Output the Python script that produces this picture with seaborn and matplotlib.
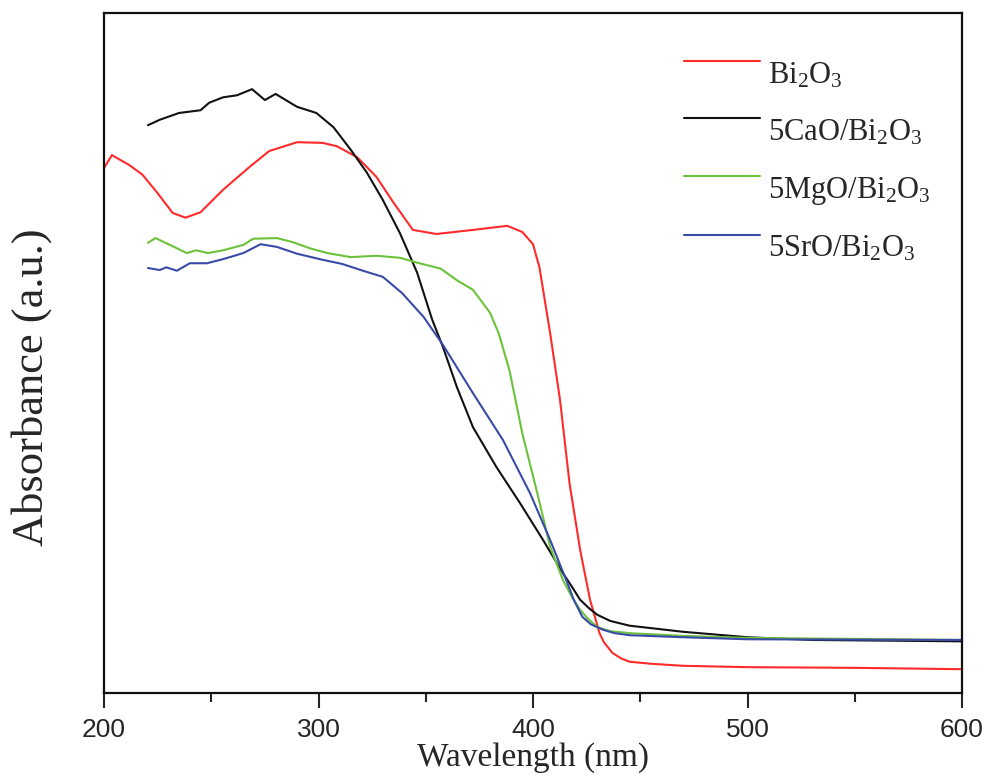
import numpy as np
import pandas as pd
import matplotlib
matplotlib.use("Agg")
import matplotlib.pyplot as plt
from matplotlib.legend_handler import HandlerLine2D
import seaborn as sns

# UV-vis absorbance spectra (a.u., arbitrary scale)
bi2o3_wl = [200, 203.7, 212, 218, 225, 232, 238, 245, 255.5, 268, 277, 290, 302, 308.6,
            318, 327, 335, 344, 355, 372, 388, 395, 400, 403, 408, 412.6, 417, 422,
            426.6, 431, 433, 437, 441, 445, 455, 470, 500, 550, 600]
bi2o3_abs = [0.772, 0.791, 0.776, 0.762, 0.735, 0.706, 0.699, 0.707, 0.740, 0.774, 0.797,
             0.810, 0.809, 0.804, 0.788, 0.759, 0.721, 0.681, 0.675, 0.681, 0.687, 0.678,
             0.660, 0.626, 0.529, 0.431, 0.309, 0.210, 0.137, 0.088, 0.075, 0.059, 0.051,
             0.046, 0.043, 0.040, 0.038, 0.037, 0.035]

cao_wl = [220.5, 226, 235, 245, 249, 255.5, 262, 269, 275, 280, 290, 299, 307, 315, 322.6,
          330, 338, 346, 353, 358, 364.5, 372, 383, 394, 404.7, 414, 418, 422, 426, 430,
          436, 445, 470, 500, 530, 600]
cao_abs = [0.835, 0.843, 0.853, 0.857, 0.868, 0.876, 0.879, 0.888, 0.872, 0.881, 0.862,
           0.853, 0.832, 0.799, 0.765, 0.725, 0.676, 0.618, 0.549, 0.509, 0.450, 0.391,
           0.332, 0.279, 0.225, 0.176, 0.157, 0.137, 0.125, 0.115, 0.106, 0.099, 0.090,
           0.082, 0.078, 0.076]

mgo_wl = [220.5, 224, 232, 238.6, 243, 248.5, 255.5, 265, 269.5, 280.6, 288, 296, 304, 315,
          327, 338, 347, 357, 364.5, 372, 380, 384, 389, 395, 402, 408, 414, 418, 422, 426,
          430, 436, 445, 470, 500, 600]
mgo_abs = [0.662, 0.669, 0.657, 0.647, 0.651, 0.647, 0.651, 0.659, 0.668, 0.669, 0.663,
           0.654, 0.647, 0.641, 0.643, 0.640, 0.632, 0.624, 0.607, 0.593, 0.559, 0.529,
           0.475, 0.382, 0.294, 0.215, 0.166, 0.142, 0.122, 0.108, 0.097, 0.091, 0.088,
           0.084, 0.081, 0.078]

sro_wl = [220.5, 226, 229, 234, 240, 248, 255.5, 265, 273, 280.6, 290, 302, 311, 320.7, 330,
          339, 349, 358, 372, 386, 398.6, 408, 416, 419, 423, 427, 432.6, 438, 445, 470,
          500, 600]
sro_abs = [0.625, 0.622, 0.626, 0.621, 0.632, 0.632, 0.638, 0.647, 0.660, 0.656, 0.646,
           0.637, 0.631, 0.621, 0.612, 0.588, 0.553, 0.512, 0.441, 0.372, 0.294, 0.225,
           0.162, 0.137, 0.112, 0.101, 0.093, 0.088, 0.085, 0.082, 0.079, 0.078]

labels = [r"$\mathregular{Bi_2O_3}$", r"$\mathregular{5CaO/Bi_2O_3}$",
          r"$\mathregular{5MgO/Bi_2O_3}$", r"$\mathregular{5SrO/Bi_2O_3}$"]
colors = ["#ff2a2a", "#111111", "#6cc23a", "#3a4aa8"]
xticks = [200, 300, 400, 500, 600]

frames = []
for lab, wl, ab in zip(labels, [bi2o3_wl, cao_wl, mgo_wl, sro_wl],
                       [bi2o3_abs, cao_abs, mgo_abs, sro_abs]):
    frames.append(pd.DataFrame({"Wavelength": wl, "Absorbance": ab, "Sample": lab}))
df = pd.concat(frames, ignore_index=True)


# legend lines sit a bit above the text centre in the original
class RaisedLine(HandlerLine2D):
    def create_artists(self, legend, orig_handle, xdescent, ydescent, width, height,
                       fontsize, trans):
        arts = super().create_artists(legend, orig_handle, xdescent, ydescent, width,
                                      height, fontsize, trans)
        for a in arts:
            a.set_ydata(np.asarray(a.get_ydata()) + 0.36 * fontsize)
        return arts


sns.set_style("ticks")
plt.rcParams["font.family"] = ["Liberation Serif", "DejaVu Serif"]
plt.rcParams["mathtext.fontset"] = "custom"
plt.rcParams["mathtext.rm"] = "Liberation Serif"

fig = plt.figure(figsize=(9.85, 7.81), dpi=100)
ax = fig.add_axes([104 / 985, 1 - 693 / 781, 858 / 985, 680 / 781])

sns.lineplot(data=df, x="Wavelength", y="Absorbance", hue="Sample", palette=colors,
             estimator=None, sort=True, linewidth=1.5, ax=ax, legend=False)

ax.set_xlim(200, 600)
ax.set_ylim(0, 1)
ax.set_xticks(xticks)
ax.set_xticks([250, 350, 450, 550], minor=True)
ax.set_xticklabels([str(t) for t in xticks], fontfamily="Liberation Sans", fontsize=19)
ax.tick_params(axis="x", which="major", direction="out", length=11, width=1.5, pad=7)
ax.tick_params(axis="x", which="minor", direction="out", length=6.5, width=1.5)
ax.set_yticks([])
for s in ax.spines.values():
    s.set_linewidth(1.6)
    s.set_color("#111111")

ax.set_xlabel("Wavelength (nm)", fontsize=24, labelpad=0)
ax.set_ylabel("Absorbance (a.u.)", fontsize=32)
ax.yaxis.set_label_coords(-0.061, 0.449)

handles = [plt.Line2D([], [], color=c, linewidth=1.5) for c in colors]
ax.legend(handles, labels, loc="upper left", bbox_to_anchor=(0.676, 0.93),
          frameon=False, fontsize=22, handlelength=2.5, handletextpad=0.26,
          labelspacing=0.9, borderpad=0, borderaxespad=0,
          handler_map={plt.Line2D: RaisedLine()})

fig.savefig("out.png", dpi=100)
